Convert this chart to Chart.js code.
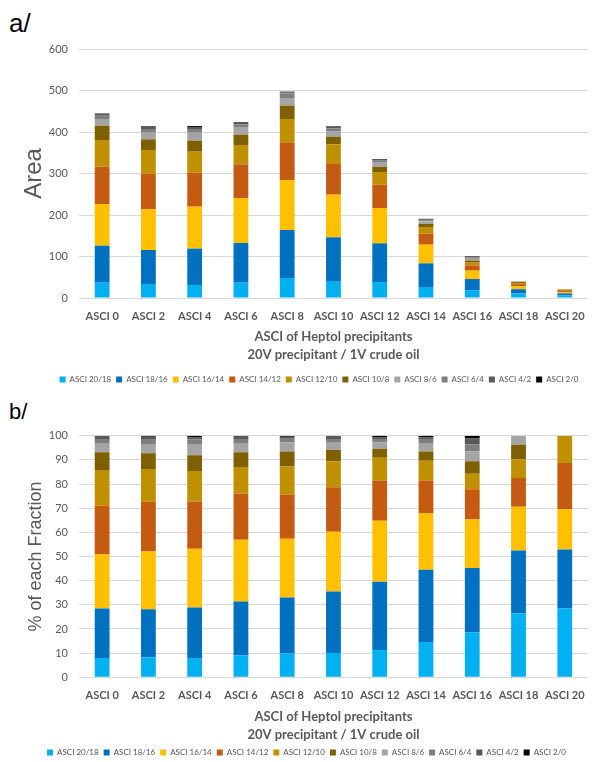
<!DOCTYPE html>
<html>
<head>
<meta charset="utf-8">
<script src="https://cdn.jsdelivr.net/npm/chart.js@4.4.1/dist/chart.umd.min.js"></script>
<style>
  html, body { margin: 0; padding: 0; background: #fff; width: 596px; height: 762px; overflow: hidden; position: relative; }
  .tag { position: absolute; font-family: "Liberation Sans", Arial, sans-serif; color: #000; line-height: 1.15; }
  #tagA { top: 9px; left: 9px; font-size: 26px; }
  #tagB { top: 399px; left: 9px; font-size: 22px; }
  canvas { position: absolute; left: 0; }
  #chartA { top: 0; }
  #chartB { top: 390px; }
</style>
</head>
<body>
<div class="tag" id="tagA">a/</div>
<div class="tag" id="tagB">b/</div>
<canvas id="chartA" width="596" height="400"></canvas>
<canvas id="chartB" width="596" height="380"></canvas>
<script>
// Heptol precipitant fractions (ASCI = asphaltene solubility class index)
const categories = ['ASCI 0', 'ASCI 2', 'ASCI 4', 'ASCI 6', 'ASCI 8', 'ASCI 10',
                    'ASCI 12', 'ASCI 14', 'ASCI 16', 'ASCI 18', 'ASCI 20'];
const seriesNames = ['ASCI 20/18', 'ASCI 18/16', 'ASCI 16/14', 'ASCI 14/12', 'ASCI 12/10',
                     'ASCI 10/8', 'ASCI 8/6', 'ASCI 6/4', 'ASCI 4/2', 'ASCI 2/0'];
const seriesColors = ['#00B0F0', '#0070C0', '#FFC000', '#C55A11', '#BF9000',
                      '#7F6000', '#A5A5A5', '#7F7F7F', '#595959', '#000000'];
const xTitleLines = ['ASCI of Heptol precipitants', '20V precipitant / 1V crude oil'];

// a/ peak area of each sub-fraction
const area2018 = [36.9, 33.7, 31.3, 36.9, 48.2, 41.0, 38.6, 26.5, 18.8, 10.7, 6.0];
const area1816 = [89.2, 82.0, 87.6, 95.6, 115.7, 105.2, 93.1, 57.0, 26.9, 10.5, 5.1];
const area1614 = [100.4, 98.8, 101.2, 108.5, 120.4, 102.8, 85.2, 45.0, 20.3, 7.3, 3.5];
const area1412 = [90.0, 85.1, 81.9, 81.1, 90.8, 75.5, 56.2, 26.5, 12.6, 4.8, 4.0];
const area1210 = [64.2, 57.0, 50.6, 46.6, 56.2, 45.8, 30.5, 16.1, 6.6, 3.1, 2.4];
const area108  = [34.6, 25.7, 26.5, 24.9, 32.2, 18.5, 12.9, 7.4, 5.2, 2.4, 0];
const area86   = [16.0, 16.1, 19.3, 16.8, 18.4, 13.4, 9.6, 6.1, 4.1, 1.5, 0];
const area64   = [9.7, 8.8, 8.8, 8.1, 11.3, 6.2, 4.8, 3.0, 3.0, 0, 0];
const area42   = [4.0, 5.8, 5.0, 5.6, 2.4, 5.8, 2.4, 2.1, 2.3, 0, 0];
const area20   = [0, 1.5, 2.3, 0, 1.6, 0, 1.6, 1.1, 1.2, 0, 0];
const areaMax = 600, areaStep = 100;

// b/ share of each sub-fraction, %
const pct2018 = [8.0, 8.3, 8.0, 9.0, 9.8, 10.1, 11.3, 14.6, 18.6, 26.5, 28.5];
const pct1816 = [20.5, 19.9, 20.9, 22.4, 23.2, 25.4, 28.3, 29.9, 26.6, 26.0, 24.4];
const pct1614 = [22.3, 23.9, 24.3, 25.5, 24.3, 24.7, 25.2, 23.3, 20.1, 18.1, 16.7];
const pct1412 = [20.2, 20.6, 19.6, 19.2, 18.4, 18.5, 16.7, 13.7, 12.5, 11.9, 19.1];
const pct1210 = [14.5, 13.5, 12.6, 10.9, 11.5, 10.7, 9.4, 8.1, 6.5, 7.8, 11.3];
const pct108  = [7.6, 6.5, 6.5, 6.1, 6.3, 4.7, 3.7, 3.9, 5.1, 6.0, 0];
const pct86   = [3.6, 3.6, 4.4, 3.6, 3.7, 3.0, 2.6, 3.2, 4.1, 3.7, 0];
const pct64   = [1.9, 2.0, 2.2, 1.9, 1.8, 1.5, 1.4, 1.6, 3.0, 0, 0];
const pct42   = [1.4, 1.3, 0.9, 1.4, 0.6, 1.4, 0.7, 1.1, 2.3, 0, 0];
const pct20   = [0, 0.4, 0.6, 0, 0.4, 0, 0.7, 0.6, 1.2, 0, 0];
const pctMax = 100, pctStep = 10;

// shifts the bottom legend sideways after layout
const legendNudge = {
  id: 'legendNudge',
  afterLayout(chart, args, opts) {
    const lg = chart.legend;
    if (lg && opts && opts.dx) { lg.left += opts.dx; lg.right += opts.dx; }
  }
};

const grey = '#595959';

function buildChart(id, o) {
  return new Chart(document.getElementById(id), {
    type: 'bar',
    data: {
      labels: categories,
      datasets: o.series.map((d, i) => ({
        label: seriesNames[i],
        data: d,
        backgroundColor: seriesColors[i],
        borderWidth: 0,
        barPercentage: 0.32,
        categoryPercentage: 1
      }))
    },
    options: {
      responsive: false,
      animation: false,
      layout: { padding: { top: o.padTop, bottom: o.padBottom, left: 0, right: 0 } },
      plugins: {
        legend: {
          position: 'bottom',
          labels: { boxWidth: 6, boxHeight: 6, padding: 5, color: grey, font: { family: 'Lato', size: 8 } }
        },
        tooltip: { enabled: false },
        legendNudge: { dx: o.legendDx }
      },
      scales: {
        x: {
          stacked: true,
          grid: { display: false, drawTicks: false },
          border: { display: false },
          ticks: { color: grey, padding: 11.4, autoSkip: false, maxRotation: 0,
                   font: { family: 'Lato', size: 11, weight: 'bold' } },
          title: { display: true, text: xTitleLines, color: grey,
                   font: { family: 'Lato', size: 13, weight: 'bold', lineHeight: '18px' },
                   padding: { top: 0, bottom: o.titlePadB } },
          afterFit(s) { s.height = o.xHeight; }
        },
        y: {
          stacked: true,
          min: 0,
          max: o.yMax,
          grid: { color: '#D9D9D9', drawTicks: false },
          border: { display: false },
          ticks: { stepSize: o.yStep, color: grey, padding: 11, font: { family: 'Lato', size: 11 } },
          title: { display: true, text: o.yTitle, color: grey,
                   font: { family: 'Liberation Sans', size: o.yTitleSize },
                   padding: { top: o.yTitlePad, bottom: 0 } },
          afterFit(s) { s.width = 79; }
        }
      }
    },
    plugins: [legendNudge]
  });
}

buildChart('chartA', {
  series: [area2018, area1816, area1614, area1412, area1210, area108, area86, area64, area42, area20],
  yMax: areaMax, yStep: areaStep, yTitle: 'Area', yTitleSize: 24, yTitlePad: 20,
  padTop: 49, padBottom: 6.5, xHeight: 72.5, titlePadB: 6.5, legendDx: 21
});

buildChart('chartB', {
  series: [pct2018, pct1816, pct1614, pct1412, pct1210, pct108, pct86, pct64, pct42, pct20],
  yMax: pctMax, yStep: pctStep, yTitle: '% of each Fraction', yTitleSize: 18, yTitlePad: 25,
  padTop: 45.7, padBottom: 3.5, xHeight: 66.2, titlePadB: 0, legendDx: 8.5
});
</script>
</body>
</html>
